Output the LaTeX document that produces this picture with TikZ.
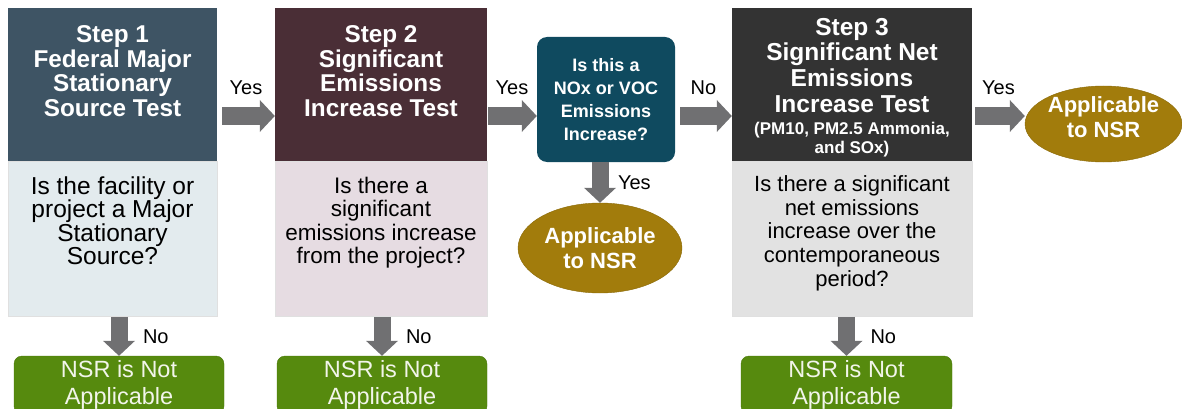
\documentclass[tikz,border=0pt]{standalone}
\usepackage{fontspec}
\setmainfont{Liberation Sans}
\usetikzlibrary{positioning,shapes.geometric,arrows.meta}
\definecolor{headA}{HTML}{3E5464}
\definecolor{bodyA}{HTML}{E3EBEE}
\definecolor{headB}{HTML}{4A2E36}
\definecolor{bodyB}{HTML}{E6DCE2}
\definecolor{headC}{HTML}{333333}
\definecolor{bodyC}{HTML}{E2E2E2}
\definecolor{noxblue}{HTML}{0F4A5F}
\definecolor{gold}{HTML}{A27C0C}
\definecolor{golddark}{HTML}{8A6908}
\definecolor{nsrgreen}{HTML}{568A0E}
\definecolor{nsrdark}{HTML}{4A780B}
\definecolor{nsrtext}{HTML}{F2F5EA}
\definecolor{arrgray}{HTML}{707072}
\tikzset{
  head/.style={rectangle, minimum height=153pt, inner sep=0pt},
  body/.style={rectangle, minimum height=155pt, inner sep=0pt, draw=white!88!black, line width=0.6pt},
  headtext/.style={text=white, align=center, inner sep=0pt,
    font=\bfseries\fontsize{24.3}{24.5}\selectfont},
  bodytext/.style={align=center, inner sep=0pt,
    font=\fontsize{22.5}{23.5}\selectfont},
  nsr/.style={rectangle, rounded corners=8pt, fill=nsrgreen, draw=nsrdark,
    text=nsrtext, minimum height=58pt, align=center,
    font=\fontsize{23.5}{27}\selectfont},
  applic/.style={ellipse, fill=gold, draw=golddark, text=white, align=center,
    inner sep=0pt, font=\bfseries\fontsize{22}{25}\selectfont},
  fat/.style={draw=arrgray, line width=17pt,
    -{Triangle[length=15pt,width=32pt,line width=0pt]}},
  lbl/.style={inner sep=0pt, outer sep=0pt, font=\fontsize{20}{20}\selectfont}
}
\begin{document}
\begin{tikzpicture}[x=1pt,y=-1pt]
\useasboundingbox (0,0) rectangle (1182,409);
\coordinate (row) at (0,116);

% step 1
\node[head, fill=headA, minimum width=209pt] (h1) at (112.5,84.5) {};
\node[body, fill=bodyA, minimum width=209pt, below=0pt of h1] (b1) {};
\node[headtext, below=18pt of h1.north] (t1) {Step 1\\Federal Major\\Stationary\\Source Test};
\node[bodytext, font=\fontsize{24.5}{23.5}\selectfont, below=15pt of b1.north] (q1)
  {Is the facility or\\project a Major\\Stationary\\Source?};
\node[nsr, minimum width=210pt] (n1) at (119,385) {NSR is Not\\Applicable};

% step 2
\node[head, fill=headB, minimum width=212pt] (h2) at (381,84.5) {};
\node[body, fill=bodyB, minimum width=212pt, below=0pt of h2] (b2) {};
\node[headtext, below=18pt of h2.north] (t2) {Step 2\\Significant\\Emissions\\Increase Test};
\node[bodytext, below=15.5pt of b2.north] (q2) {Is there a\\significant\\emissions increase\\from the project?};
\node[nsr, minimum width=210pt] (n2) at (382,385) {NSR is Not\\Applicable};

% NOx / VOC question
\node[rectangle, rounded corners=10pt, fill=noxblue, text=white, align=center,
  minimum width=138pt, minimum height=125pt, inner sep=0pt,
  font=\bfseries\fontsize{18}{23}\selectfont] (nox) at (606,99.5)
  {Is this a\\NOx or VOC\\Emissions\\Increase?};
\node[applic, minimum width=164pt, minimum height=90pt] (e1) at (600,248) {Applicable\\to NSR};

% step 3
\node[head, fill=headC, minimum width=240pt] (h3) at (852,84.5) {};
\node[body, fill=bodyC, minimum width=240pt, below=0pt of h3] (b3) {};
\node[headtext, font=\bfseries\fontsize{24.5}{25.7}\selectfont, below=10pt of h3.north] (t3)
  {Step 3\\Significant Net\\Emissions\\Increase Test};
\node[headtext, font=\bfseries\fontsize{17}{19}\selectfont, below=9pt of t3] (t3s)
  {(PM10, PM2.5 Ammonia,\\and SOx)};
\node[bodytext, font=\fontsize{22}{23.75}\selectfont, below=14pt of b3.north] (q3)
  {Is there a significant\\net emissions\\increase over the\\contemporaneous\\period?};
\node[nsr, minimum width=211pt] (n3) at (846.5,385) {NSR is Not\\Applicable};
\node[applic, minimum width=157pt, minimum height=76pt] (e2) at (1103.5,124) {};
\node[text=white, align=center, inner sep=0pt, font=\bfseries\fontsize{22}{25}\selectfont]
  (e2t) at ([yshift=7pt]e2.center) {Applicable\\to NSR};

% arrows
\draw[fat, shorten <=5pt] (h1.east |- row) -- (h2.west |- row)
  node[lbl, midway, above=21pt] {Yes};
\draw[fat, shorten <=1pt] (h2.east |- row) -- (nox.west |- row)
  node[lbl, midway, above=21pt] {Yes};
\draw[fat, shorten <=5pt] (nox.east |- row) -- (h3.west |- row)
  node[lbl, midway, above=21pt] {No};
\draw[fat, shorten <=3pt] (h3.east |- row) -- (e2.west |- row)
  node[lbl, midway, above=21pt] {Yes};
\draw[fat] (e1.north |- nox.south) -- (e1.north) node[lbl, midway, right=18pt] {Yes};
\draw[fat] (n1.north |- b1.south) -- (n1.north) node[lbl, midway, right=24pt] {No};
\draw[fat] (n2.north |- b2.south) -- (n2.north) node[lbl, midway, right=24pt] {No};
\draw[fat] (n3.north |- b3.south) -- (n3.north) node[lbl, midway, right=24pt] {No};
\end{tikzpicture}
\end{document}
